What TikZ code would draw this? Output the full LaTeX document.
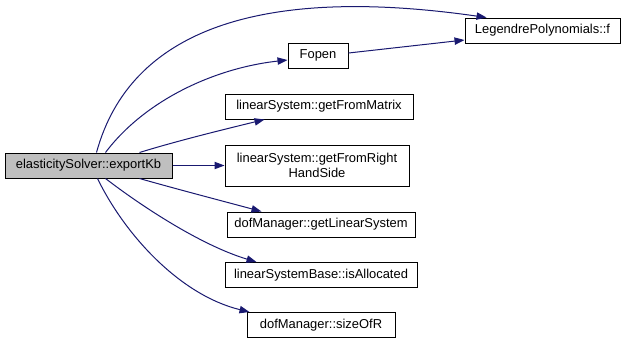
\documentclass[tikz,border=0pt]{standalone}
\usepackage{fontspec}
\setmainfont{Liberation Sans}
\usetikzlibrary{arrows.meta,calc}

\definecolor{edgeblue}{HTML}{191970}
\definecolor{rootgray}{HTML}{BFBFBF}

\tikzset{
    fn/.style={shape=rectangle,draw=black,line width=0.75pt,inner sep=0pt,
        font=\fontsize{9.7}{11.5}\selectfont,align=center,minimum height=18.75pt},
    call/.style={draw=edgeblue,line width=0.75pt,
        -{Triangle[length=7.5pt,width=5.5pt]}}
}

\begin{document}
\begin{tikzpicture}[x=0.75pt,y=-0.75pt]
    \useasboundingbox (0,0) rectangle (627,344);

    \node[fn,fill=rootgray,minimum width=125.25pt] (kb) at (88.5,165.5) {elasticitySolver::exportKb};
    \node[fn,minimum width=116.25pt] (lp) at (542.5,30.5) {LegendrePolynomials::f};
    \node[fn,minimum width=45pt] (fopen) at (318,55.5) {Fopen};
    \node[fn,minimum width=141pt] (gfm) at (319,106.5) {linearSystem::getFromMatrix};
    \node[fn,minimum width=138pt,minimum height=30.75pt] (gfr) at (317,165.5) {linearSystem::getFromRight\\HandSide};
    \node[fn,minimum width=141pt] (gls) at (321,224.5) {dofManager::getLinearSystem};
    \node[fn,minimum width=144pt] (isa) at (321,275) {linearSystemBase::isAllocated};
    \node[fn,minimum width=111pt] (sor) at (321,325) {dofManager::sizeOfR};

    % calls going up
    \draw[call] ($(kb.north west)+(92,0)$) .. controls (130,30) and (260,-15) .. ($(lp.north west)+(22,0)$);
    \draw[call] ($(kb.north west)+(101,0)$) .. controls (145,100) and (215,68) .. ($(fopen.west)+(0,4.5)$);
    \draw[call] ($(kb.north west)+(135,0)$) .. controls (180,140) and (230,128) .. ($(gfm.south west)+(40,0)$);
    \draw[call] (kb.east) -- (gfr.west);
    % calls going down
    \draw[call] ($(kb.south west)+(135,0)$) .. controls (180,190) and (230,203) .. ($(gls.north west)+(35,0)$);
    \draw[call] ($(kb.south west)+(101,0)$) .. controls (140,205) and (200,245) .. ($(isa.north west)+(32,0)$);
    \draw[call] ($(kb.south west)+(93,0)$) .. controls (125,235) and (180,295) .. ($(sor.north west)+(3,0)$);
    % Fopen
    \draw[call] ($(fopen.east)+(0,-2.5)$) -- ($(lp.west)+(0,9.5)$);
\end{tikzpicture}
\end{document}
